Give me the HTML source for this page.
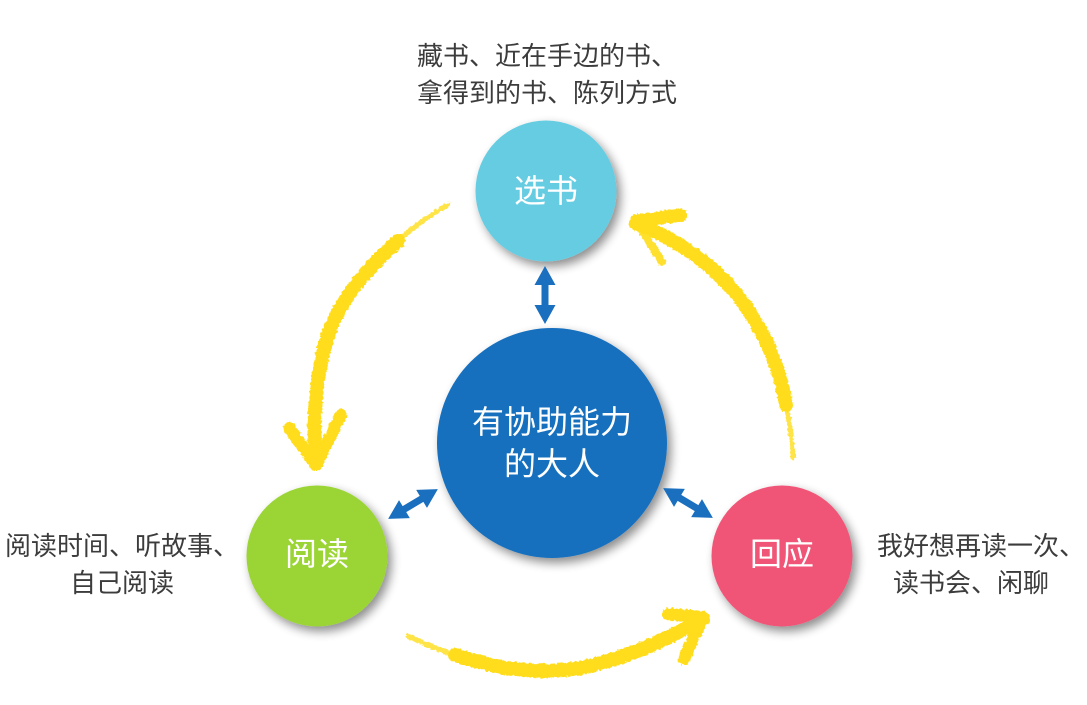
<!DOCTYPE html>
<html><head><meta charset="utf-8">
<style>
html,body{margin:0;padding:0;background:#fff;}
svg{display:block;}
text{font-family:"Liberation Sans","Noto Sans CJK SC",sans-serif;}
</style></head>
<body>
<svg width="1087" height="705" viewBox="0 0 1087 705" xmlns="http://www.w3.org/2000/svg">
<defs>
  <filter id="sh" x="-30%" y="-30%" width="160%" height="160%">
    <feGaussianBlur in="SourceAlpha" stdDeviation="5"/>
    <feOffset dx="4" dy="5" result="b"/>
    <feComponentTransfer><feFuncA type="linear" slope="0.45"/></feComponentTransfer>
    <feMerge><feMergeNode/><feMergeNode in="SourceGraphic"/></feMerge>
  </filter>
  <filter id="rough" x="-10%" y="-10%" width="120%" height="120%">
    <feTurbulence type="fractalNoise" baseFrequency="0.35" numOctaves="2" seed="3"/>
    <feDisplacementMap in="SourceGraphic" scale="4" xChannelSelector="R" yChannelSelector="G"/>
  </filter>
  <polygon id="dbl" points="-29,0 -10,-10.5 -10,-3.5 10,-3.5 10,-10.5 29,0 10,10.5 10,3.5 -10,3.5 -10,10.5" fill="#1A6FBF"/>
</defs>

<!-- yellow brush arrows -->
<g fill="none" stroke="#FFDD1B" stroke-linecap="round" stroke-linejoin="round" filter="url(#rough)">
  <!-- left: select -> read -->
  <path d="M448,205 C 430,215 412,228 398,241" stroke-width="5" opacity="0.8"/>
  <path d="M398,241 C 360,275 338,305 328,335 C 316,372 312,420 316,464" stroke-width="14"/>
  <path d="M289,428 L316,465 L341,415" stroke-width="12"/>
  <!-- right: response -> select -->
  <path d="M793,458 C 792,440 790,425 786,405" stroke-width="5" opacity="0.8"/>
  <path d="M786,405 C 780,370 768,340 748,310 C 725,275 690,245 636,223" stroke-width="14"/>
  <path d="M681,215 L636,221" stroke-width="13"/>
  <path d="M636,222 L662,262" stroke-width="8" opacity="0.9"/>
  <!-- bottom: read -> response -->
  <path d="M408,636 C 425,644 440,650 455,655" stroke-width="5" opacity="0.8"/>
  <path d="M455,655 C 500,670 545,676 590,666 C 630,656 670,638 703,619" stroke-width="14"/>
  <path d="M668,614 L703,617 L684,659" stroke-width="12"/>
</g>

<!-- circles -->
<g filter="url(#sh)">
  <circle cx="546" cy="191" r="70.5" fill="#66CCE2"/>
  <circle cx="552" cy="443" r="115" fill="#186FBE"/>
  <circle cx="317" cy="556" r="70.5" fill="#9BD435"/>
  <circle cx="782" cy="556" r="70.5" fill="#F05577"/>
</g>

<!-- blue double arrows -->
<use href="#dbl" transform="translate(545,295) rotate(90)"/>
<use href="#dbl" transform="translate(413,504) rotate(-31)"/>
<use href="#dbl" transform="translate(688,503) rotate(31)"/>

<!-- circle labels -->
<g fill="#fff" font-size="32" text-anchor="middle">
  <text x="546" y="202">选书</text>
  <text x="552" y="433">有协助能力</text>
  <text x="552" y="475">的大人</text>
  <text x="317" y="565">阅读</text>
  <text x="782" y="565">回应</text>
</g>

<!-- outer labels -->
<g fill="#3C3C3C" font-size="26" text-anchor="middle">
  <text x="547" y="65">藏书、近在手边的书、</text>
  <text x="547" y="102">拿得到的书、陈列方式</text>
  <text x="122" y="555">阅读时间、听故事、</text>
  <text x="122" y="592">自己阅读</text>
  <text x="981" y="555">我好想再读一次、</text>
  <text x="971" y="592">读书会、闲聊</text>
</g>
</svg>
</body></html>
